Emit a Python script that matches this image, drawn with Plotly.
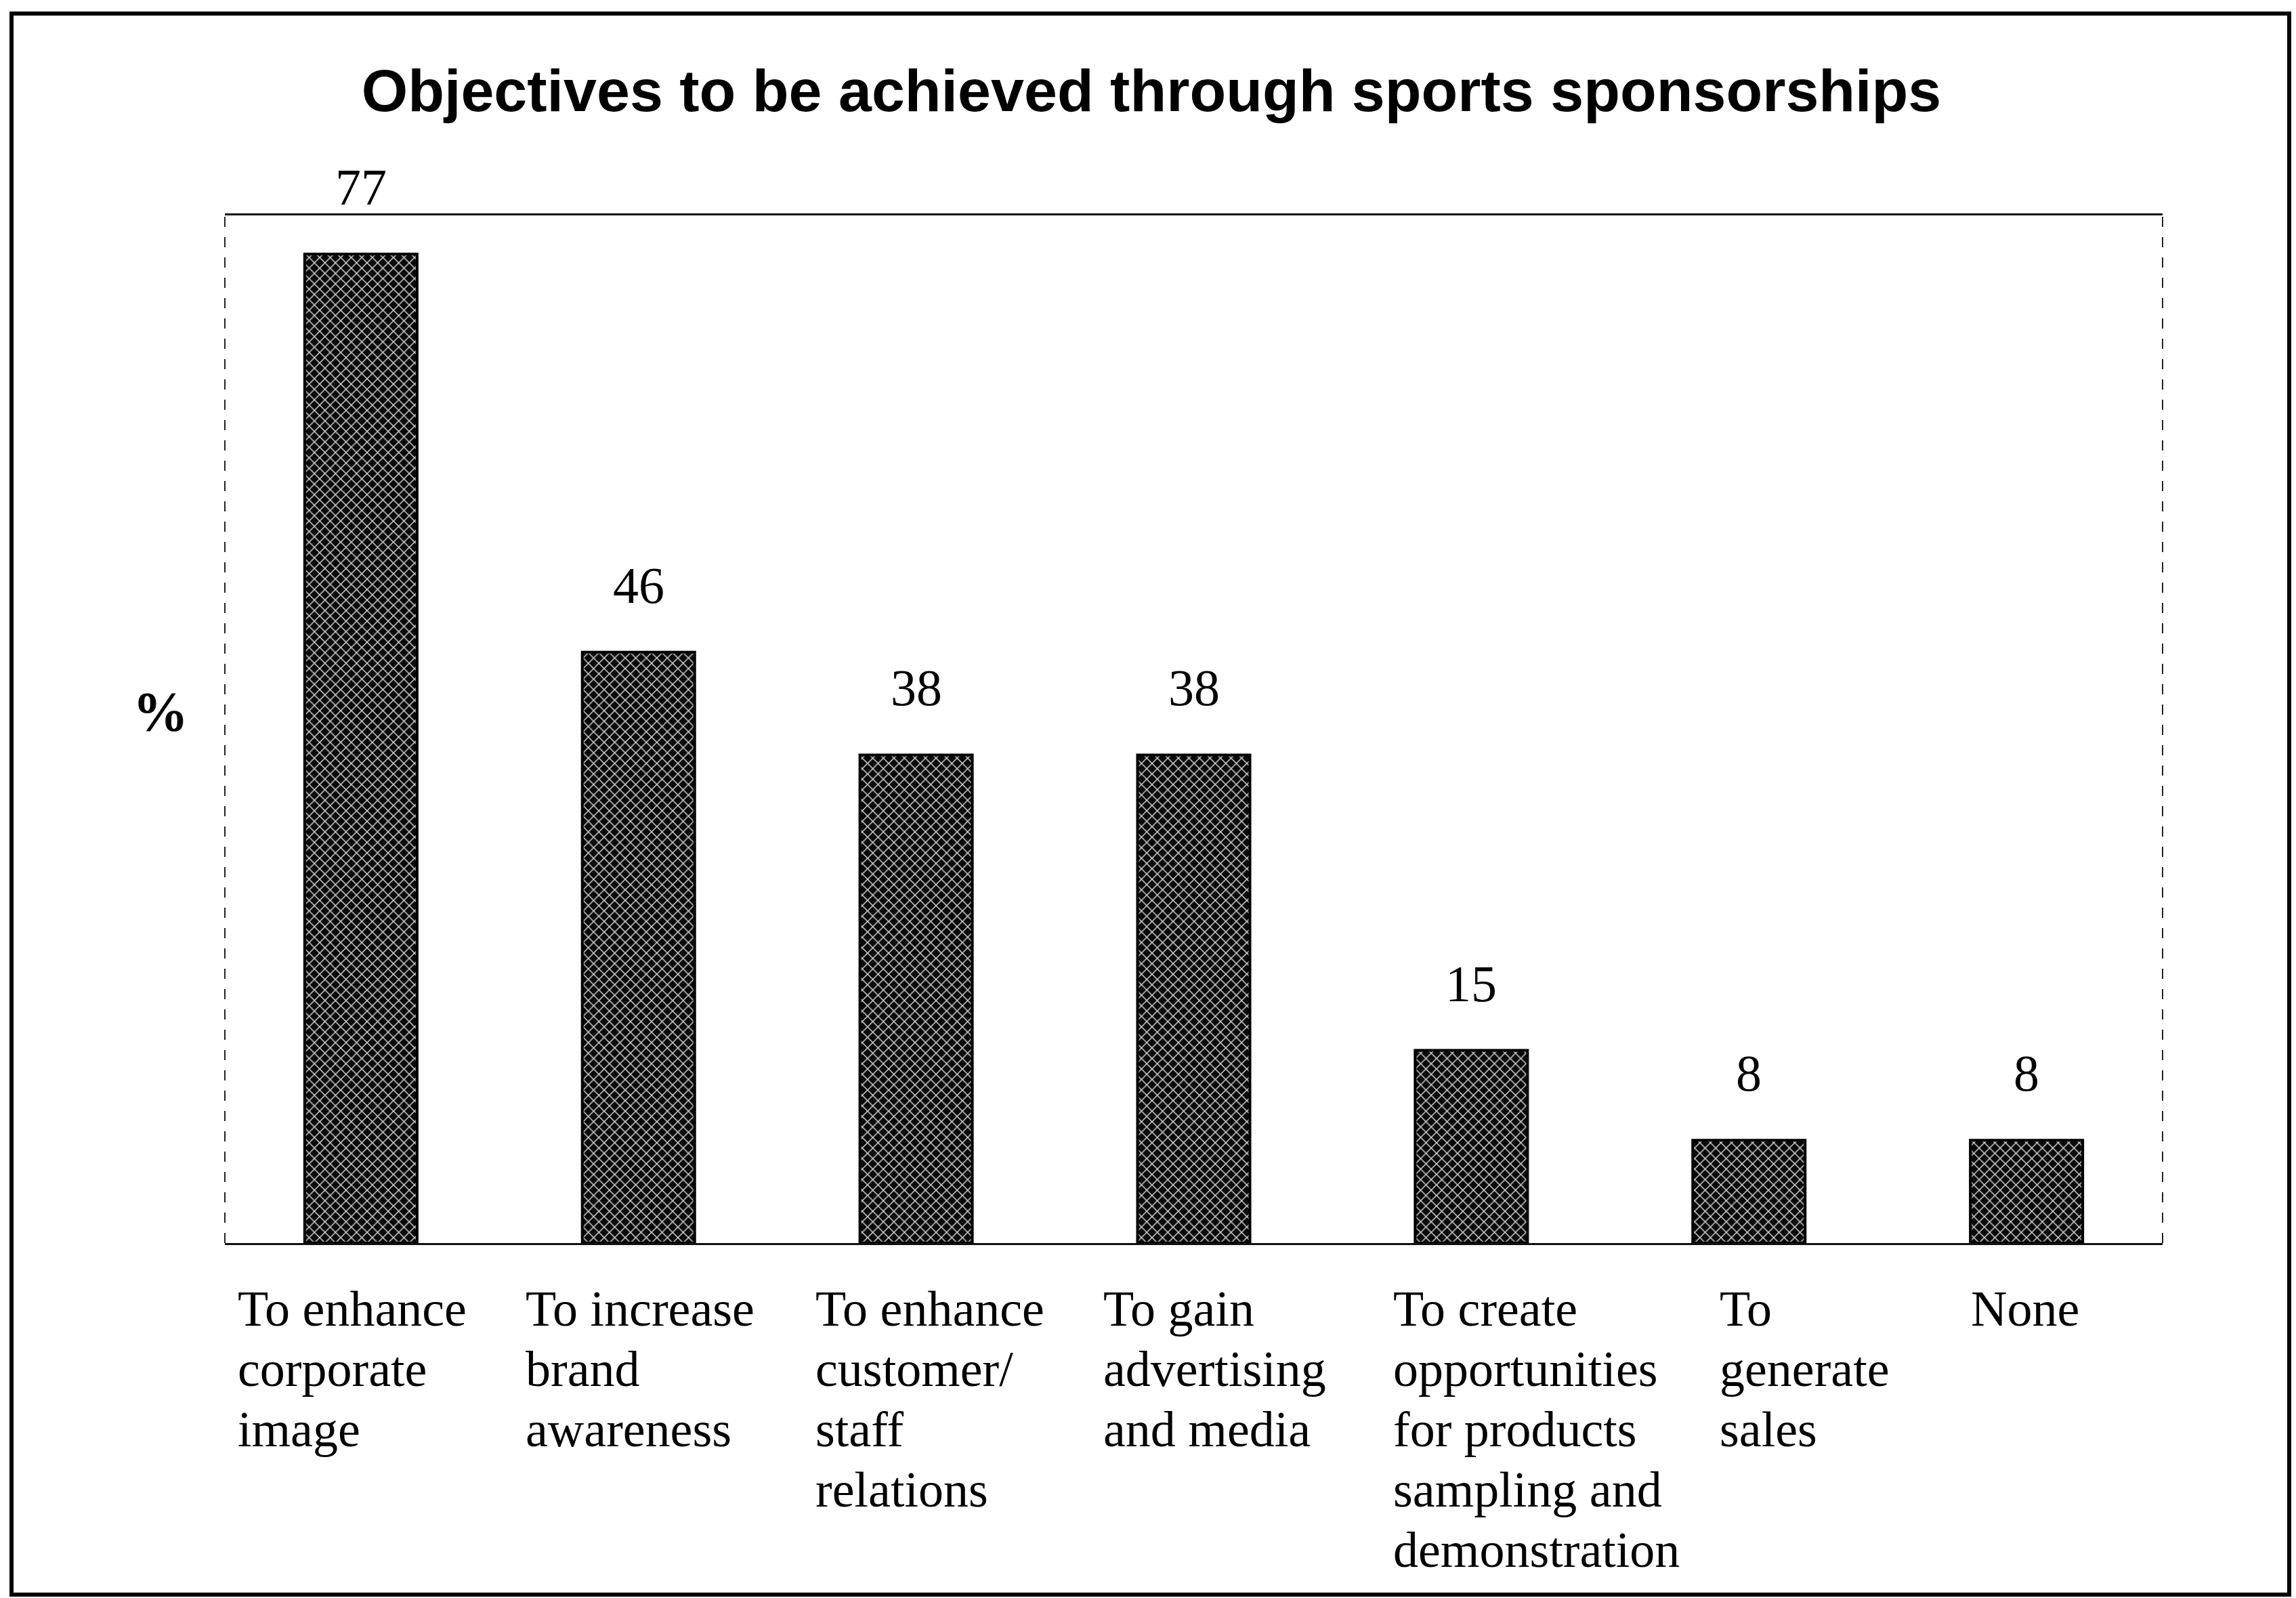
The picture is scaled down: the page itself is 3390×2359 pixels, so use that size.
import plotly.graph_objects as go

# ---- data ----
CATEGORIES = ["Corporate image", "Brand awareness", "Customer/staff relations",
              "Advertising and media", "Product sampling", "Generate sales", "None"]
VALUES = [77, 46, 38, 38, 15, 8, 8]
LABEL_LINES = [
    ["To enhance", "corporate", "image"],
    ["To increase", "brand", "awareness"],
    ["To enhance", "customer/", "staff", "relations"],
    ["To gain", "advertising", "and media"],
    ["To create", "opportunities", "for products", "sampling and", "demonstration"],
    ["To", "generate", "sales"],
    ["None"],
]
TITLE = "Objectives to be achieved through sports sponsorships"
Y_LABEL = "%"

# ---- layout constants (pixels) ----
W, H = 3390, 2359
ML, MR, MT, MB = 332, 197, 318, 524
PW, PH = W - ML - MR, H - MT - MB
LABEL_XSHIFT = [-184, -169, -151, -136, -117, -45, -84]
LINE_PITCH = 89
SERIF = "Liberation Serif, Times New Roman, serif"
SANS = "Liberation Sans, Arial, sans-serif"


def px_x(p):
    return (p - ML) / PW


def px_y(p):
    return (H - MB - p) / PH


idx = list(range(len(CATEGORIES)))

fig = go.Figure()
fig.add_trace(go.Bar(
    x=idx, y=VALUES, width=0.405,
    marker=dict(color="#0a0a0a",
                line=dict(color="#000000", width=4),
                pattern=dict(shape="x", fgcolor="#d4d4d4", bgcolor="#0a0a0a",
                             size=11, solidity=0.25, fillmode="replace")),
    hoverinfo="skip", showlegend=False,
))

annotations = []
# value labels
for i, v in zip(idx, VALUES):
    annotations.append(dict(x=i, y=v, xref="x", yref="y", text=str(v),
                            showarrow=False, xanchor="center", yanchor="bottom",
                            yshift=55, font=dict(family=SERIF, size=76, color="#000")))
# category labels, one annotation per line
for i, lines in zip(idx, LABEL_LINES):
    for k, line in enumerate(lines):
        annotations.append(dict(x=i, y=0, xref="x", yref="paper", text=line,
                                showarrow=False, xanchor="left", yanchor="top",
                                xshift=LABEL_XSHIFT[i], yshift=-54 - LINE_PITCH * k,
                                font=dict(family=SERIF, size=74, color="#000")))
# y label
annotations.append(dict(x=px_x(237), y=px_y(1050), xref="paper", yref="paper",
                        text=Y_LABEL, showarrow=False, xanchor="center", yanchor="middle",
                        font=dict(family=SERIF, size=82, color="#000", weight="bold")))

shapes = [
    # outer frame
    dict(type="rect", xref="paper", yref="paper",
         x0=px_x(17), x1=px_x(3380), y0=px_y(2354), y1=px_y(20),
         line=dict(color="#000", width=6), fillcolor="rgba(0,0,0,0)", layer="below"),
    # left and right plot-area borders (dashed, scanned look)
    dict(type="line", xref="paper", yref="paper", x0=0, x1=0, y0=0, y1=1,
         line=dict(color="#222", width=2, dash="longdash")),
    dict(type="line", xref="paper", yref="paper", x0=1, x1=1, y0=0, y1=1,
         line=dict(color="#222", width=2, dash="longdash")),
]

fig.update_layout(
    width=W, height=H,
    margin=dict(l=ML, r=MR, t=MT, b=MB, autoexpand=False),
    paper_bgcolor="white", plot_bgcolor="white",
    title=dict(text=TITLE, x=1700 / W, xanchor="center", xref="container",
               y=1 - 133 / H, yanchor="middle", yref="container",
               font=dict(family=SANS, size=88, color="#000", weight="bold")),
    xaxis=dict(range=[-0.49, len(CATEGORIES) - 0.51], showticklabels=False, ticks="",
               showgrid=False, zeroline=False, showline=True, mirror=True,
               linecolor="#111", linewidth=3, fixedrange=True),
    yaxis=dict(range=[0, 80], showticklabels=False, ticks="", showgrid=False,
               zeroline=False, showline=False, fixedrange=True),
    annotations=annotations, shapes=shapes,
)

fig.write_html("out.html")
